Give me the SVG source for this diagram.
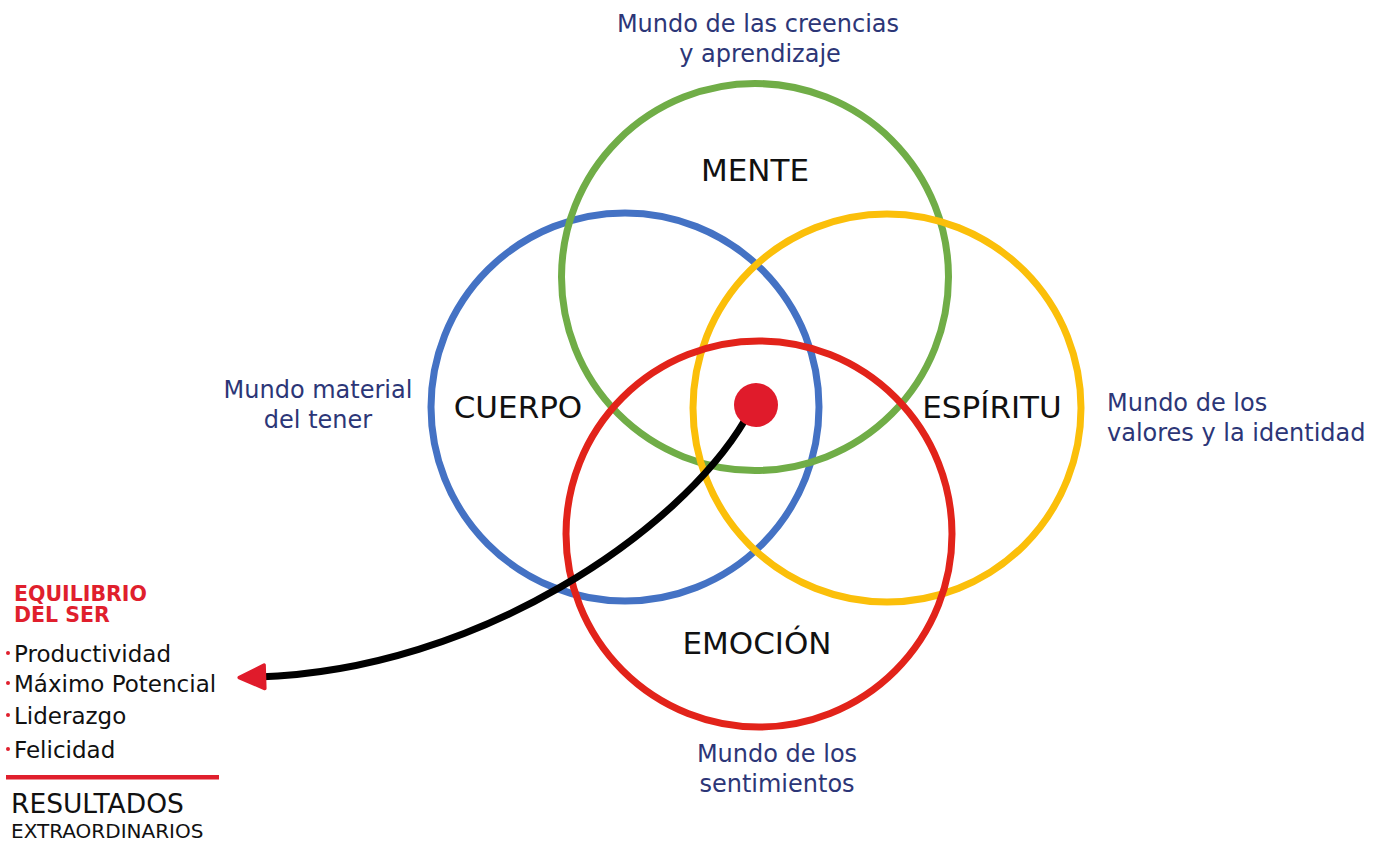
<svg xmlns="http://www.w3.org/2000/svg" width="1379" height="841" viewBox="0 0 1379 841">
<style>
text{font-family:"DejaVu Sans","Liberation Sans",sans-serif}
.ring{fill:none;stroke-width:7}
.world{fill:#2c3677;font-size:24px}
.main{fill:#111;font-size:31px;text-anchor:middle}
.item{fill:#111;font-size:23px}
.head{fill:#e01f2d;font-size:20.5px;font-weight:bold}
.dot{fill:#e01f2d}
</style>
<defs>
<marker id="arr" viewBox="0 0 10 10" refX="3" refY="5" markerWidth="4.2" markerHeight="4.2" orient="auto" markerUnits="strokeWidth">
<path d="M0.8,1 L9.4,5 L0.8,9 Z" fill="#e01b2b" stroke="#e01b2b" stroke-width="1.2" stroke-linejoin="round"/>
</marker>
</defs>
<rect width="1379" height="841" fill="#fff"/>
<g id="cuerpo"><circle class="ring" cx="625" cy="407" r="194" stroke="#4472c4"/><text class="main" x="518" y="418">CUERPO</text></g>
<g id="mente"><circle class="ring" cx="755" cy="277" r="193.5" stroke="#70ad47"/><text class="main" x="755" y="181">MENTE</text></g>
<g id="espiritu"><circle class="ring" cx="887" cy="408" r="194" stroke="#fbbf0a"/><text class="main" x="992" y="418">ESPÍRITU</text></g>
<g id="emocion"><circle class="ring" cx="759" cy="534" r="193" stroke="#e2231a"/><text class="main" x="757" y="654">EMOCIÓN</text></g>
<g id="connectors">
<path d="M745,420 C680,530 480,670 258,677" fill="none" stroke="#000" stroke-width="7" marker-end="url(#arr)"/>
</g>
<g id="centro"><circle cx="756" cy="405" r="22" fill="#e01b2b"/></g>
<g id="labels">
<text class="world" text-anchor="middle" x="758" y="32">Mundo de las creencias</text>
<text class="world" text-anchor="middle" x="760" y="62">y aprendizaje</text>
<text class="world" text-anchor="middle" x="318" y="398">Mundo material</text>
<text class="world" text-anchor="middle" x="318" y="428">del tener</text>
<text class="world" x="1107" y="411">Mundo de los</text>
<text class="world" x="1107" y="441">valores y la identidad</text>
<text class="world" text-anchor="middle" x="777" y="762">Mundo de los</text>
<text class="world" text-anchor="middle" x="777" y="792">sentimientos</text>
</g>
<g id="equilibrio">
<text class="head" x="14" y="601">EQUILIBRIO</text>
<text class="head" x="14" y="622">DEL SER</text>
<circle class="dot" cx="8" cy="653" r="2"/><text class="item" x="14" y="662">Productividad</text>
<circle class="dot" cx="8" cy="683" r="2"/><text class="item" x="14" y="692">Máximo Potencial</text>
<circle class="dot" cx="8" cy="715" r="2"/><text class="item" x="14" y="724">Liderazgo</text>
<circle class="dot" cx="8" cy="749" r="2"/><text class="item" x="14" y="758">Felicidad</text>
<rect x="6" y="775" width="213" height="4.5" fill="#e01f2d"/>
<text x="11" y="813" style="font-size:26.5px;fill:#111">RESULTADOS</text>
<text x="11" y="838" style="font-size:20px;fill:#111">EXTRAORDINARIOS</text>
</g>
</svg>
